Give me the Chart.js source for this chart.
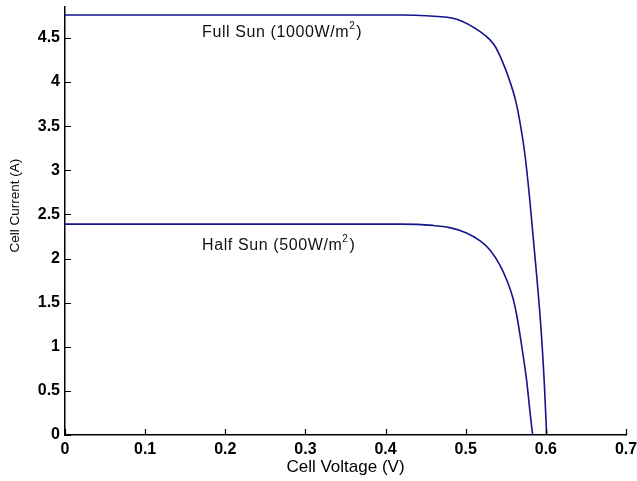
<!DOCTYPE html>
<html>
<head>
<meta charset="utf-8">
<script src="https://cdn.jsdelivr.net/npm/chart.js@4.4.0/dist/chart.umd.min.js"></script>
<style>
  html, body { margin: 0; padding: 0; background: #fff; }
</style>
</head>
<body>
<canvas id="iv-chart" width="637" height="481"></canvas>
<script>
const chartElement = document.getElementById('iv-chart');

// I-V curves
const fullSunVoltage = [0, 0.1, 0.2, 0.3, 0.42, 0.451, 0.489, 0.518, 0.530, 0.537, 0.543, 0.549, 0.555, 0.562, 0.567, 0.574, 0.580, 0.589, 0.594, 0.598, 0.601];
const fullSunCurrent = [4.76, 4.76, 4.76, 4.76, 4.76, 4.75, 4.71, 4.57, 4.48, 4.40, 4.29, 4.16, 4.01, 3.80, 3.58, 3.17, 2.66, 1.76, 1.20, 0.60, 0];
const halfSunVoltage = [0, 0.1, 0.2, 0.3, 0.418, 0.459, 0.480, 0.501, 0.518, 0.530, 0.543, 0.551, 0.559, 0.564, 0.570, 0.576, 0.580, 0.5835];
const halfSunCurrent = [2.39, 2.39, 2.39, 2.39, 2.39, 2.375, 2.35, 2.29, 2.20, 2.10, 1.92, 1.76, 1.55, 1.34, 1.00, 0.62, 0.28, 0];

const xTicks = [0, 0.1, 0.2, 0.3, 0.4, 0.5, 0.6, 0.7];
const xTickLabels = ['0', '0.1', '0.2', '0.3', '0.4', '0.5', '0.6', '0.7'];
const yTicks = [0, 0.5, 1, 1.5, 2, 2.5, 3, 3.5, 4, 4.5];
const yTickLabels = ['0', '0.5', '1', '1.5', '2', '2.5', '3', '3.5', '4', '4.5'];

const curveNames = ['Full Sun (1000W/m', 'Half Sun (500W/m'];
const yTitle = 'Cell Current (A)';

const lineColor = '#14148c';
const fontFamily = '"Liberation Sans", Arial, Helvetica, sans-serif';

const toPoints = (xs, ys) => xs.map((x, i) => ({ x: x, y: ys[i] }));

// small tick marks pointing into the plot, the curve captions and the y title
const extras = {
  id: 'extras',
  afterDatasetsDraw(chart) {
    const ctx = chart.ctx;
    const x = chart.scales.x;
    const y = chart.scales.y;
    const area = chart.chartArea;
    ctx.save();
    ctx.strokeStyle = '#000';
    ctx.lineWidth = 1.2;
    ctx.beginPath();
    xTicks.forEach(v => {
      const px = Math.round(x.getPixelForValue(v)) + 0.5;
      ctx.moveTo(px, area.bottom);
      ctx.lineTo(px, area.bottom - 6);
    });
    yTicks.forEach(v => {
      const py = Math.round(y.getPixelForValue(v)) + 0.5;
      ctx.moveTo(area.left, py);
      ctx.lineTo(area.left + 6, py);
    });
    ctx.stroke();

    const spots = [[0.171, 4.56], [0.171, 2.15]];
    ctx.fillStyle = '#111';
    ctx.textBaseline = 'middle';
    ctx.letterSpacing = '0.6px';
    curveNames.forEach((name, i) => {
      let px = x.getPixelForValue(spots[i][0]);
      const py = y.getPixelForValue(spots[i][1]);
      ctx.font = '16px ' + fontFamily;
      ctx.fillText(name, px, py);
      px += ctx.measureText(name).width;
      ctx.font = '10px ' + fontFamily;
      ctx.fillText('2', px, py - 6);
      px += ctx.measureText('2').width + 1;
      ctx.font = '16px ' + fontFamily;
      ctx.fillText(')', px, py);
    });

    ctx.letterSpacing = '0px';
    ctx.fillStyle = '#000';
    ctx.font = '13.5px ' + fontFamily;
    ctx.textAlign = 'center';
    ctx.translate(15, y.getPixelForValue(2.6));
    ctx.rotate(-Math.PI / 2);
    ctx.fillText(yTitle, 0, 0);
    ctx.restore();
  }
};

const config = {
  type: 'line',
  data: {
    datasets: [
      {
        label: 'Full Sun',
        data: toPoints(fullSunVoltage, fullSunCurrent),
        borderColor: lineColor,
        borderWidth: 1.6,
        cubicInterpolationMode: 'monotone',
        pointRadius: 0,
        fill: false
      },
      {
        label: 'Half Sun',
        data: toPoints(halfSunVoltage, halfSunCurrent),
        borderColor: lineColor,
        borderWidth: 1.6,
        cubicInterpolationMode: 'monotone',
        pointRadius: 0,
        fill: false
      }
    ]
  },
  options: {
    responsive: false,
    animation: false,
    layout: { padding: { top: 7, right: 11, left: 0, bottom: 0 } },
    plugins: {
      legend: { display: false },
      tooltip: { enabled: false }
    },
    scales: {
      x: {
        type: 'linear',
        min: 0,
        max: 0.7,
        afterBuildTicks: scale => { scale.ticks = xTicks.map(v => ({ value: v })); },
        afterFit: scale => {
          scale.height = 46;
          scale.paddingLeft = 0;
          scale.paddingRight = 0;
        },
        grid: { display: false, drawTicks: false },
        border: { display: true, color: '#000', width: 1.5 },
        ticks: {
          color: '#000',
          padding: 5,
          maxRotation: 0,
          font: { family: fontFamily, size: 16, weight: 'bold' },
          callback: (value, index) => xTickLabels[index]
        },
        title: {
          display: true,
          text: 'Cell Voltage (V)',
          color: '#000',
          font: { family: fontFamily, size: 17 },
          padding: { top: 0, bottom: 3 }
        }
      },
      y: {
        min: 0,
        max: 4.85,
        afterBuildTicks: scale => { scale.ticks = yTicks.map(v => ({ value: v })); },
        afterFit: scale => {
          scale.width = 65;
          scale.paddingTop = 0;
          scale.paddingBottom = 0;
        },
        grid: { display: false, drawTicks: false },
        border: { display: true, color: '#000', width: 1.5 },
        ticks: {
          color: '#000',
          padding: 5,
          font: { family: fontFamily, size: 16, weight: 'bold' },
          callback: (value, index) => yTickLabels[index]
        }
      }
    }
  },
  plugins: [extras]
};

const chart = new Chart(chartElement, config);
</script>
</body>
</html>
